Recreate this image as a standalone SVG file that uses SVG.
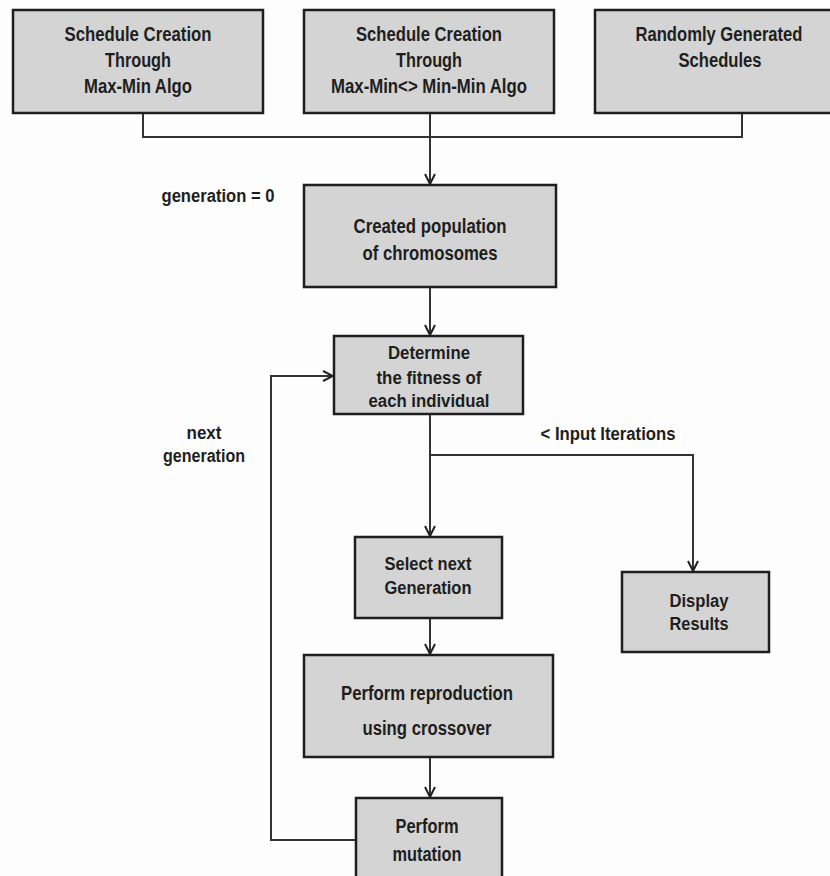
<svg xmlns="http://www.w3.org/2000/svg" width="830" height="876" viewBox="0 0 830 876">
<style>
.box{fill:#d4d4d4;stroke:#1e1e1e;stroke-width:2.5}
.t{font-family:"Liberation Sans",Arial,sans-serif;font-weight:bold;fill:#1e1e1e;text-anchor:middle}
.l{font-size:20px}
.s{font-size:18px}
.c{fill:none;stroke:#333;stroke-width:2}
</style>
<defs>
<marker id="ah" viewBox="0 0 12 12" refX="11" refY="6" markerWidth="12" markerHeight="12" markerUnits="userSpaceOnUse" orient="auto">
<path d="M1,1 L11,6 L1,11" fill="none" stroke="#222" stroke-width="2"/>
</marker>
</defs>
<rect width="830" height="876" fill="#fdfdfd"/>
<g id="connectors">
<path class="c" d="M143 113 V137 H742 V113"/>
<path class="c" d="M430 113 V184" marker-end="url(#ah)"/>
<path class="c" d="M430 287 V335" marker-end="url(#ah)"/>
<path class="c" d="M430 414 V536" marker-end="url(#ah)"/>
<path class="c" d="M430 455 H693 V571" marker-end="url(#ah)"/>
<path class="c" d="M430 618 V654" marker-end="url(#ah)"/>
<path class="c" d="M430 757 V797" marker-end="url(#ah)"/>
<path class="c" d="M356 840 H271 V376 H333" marker-end="url(#ah)"/>
</g>
<g id="box1">
<rect class="box" x="13" y="10" width="250" height="103"/>
<text class="t l" x="138" y="41" textLength="147" lengthAdjust="spacingAndGlyphs">Schedule Creation</text>
<text class="t l" x="138" y="67" textLength="66" lengthAdjust="spacingAndGlyphs">Through</text>
<text class="t l" x="138" y="93" textLength="108" lengthAdjust="spacingAndGlyphs">Max-Min Algo</text>
</g>
<g id="box2">
<rect class="box" x="304" y="10" width="250" height="103"/>
<text class="t l" x="429" y="41" textLength="146" lengthAdjust="spacingAndGlyphs">Schedule Creation</text>
<text class="t l" x="429" y="67" textLength="66" lengthAdjust="spacingAndGlyphs">Through</text>
<text class="t l" x="429" y="93" textLength="196" lengthAdjust="spacingAndGlyphs">Max-Min&lt;&gt; Min-Min Algo</text>
</g>
<g id="box3">
<rect class="box" x="595" y="10" width="250" height="103"/>
<text class="t l" x="719" y="41" textLength="167" lengthAdjust="spacingAndGlyphs">Randomly Generated</text>
<text class="t l" x="720" y="67" textLength="83" lengthAdjust="spacingAndGlyphs">Schedules</text>
</g>
<g id="label-gen0">
<text class="t s" x="218" y="202" textLength="113" lengthAdjust="spacingAndGlyphs">generation = 0</text>
</g>
<g id="box4">
<rect class="box" x="304" y="185" width="252" height="102"/>
<text class="t l" x="430" y="233" textLength="153" lengthAdjust="spacingAndGlyphs">Created population</text>
<text class="t l" x="430" y="260" textLength="135" lengthAdjust="spacingAndGlyphs">of chromosomes</text>
</g>
<g id="box5">
<rect class="box" x="334" y="336" width="189" height="78"/>
<text class="t s" x="429" y="359" textLength="82" lengthAdjust="spacingAndGlyphs">Determine</text>
<text class="t s" x="429" y="384" textLength="105" lengthAdjust="spacingAndGlyphs">the fitness of</text>
<text class="t s" x="429" y="407" textLength="121" lengthAdjust="spacingAndGlyphs">each individual</text>
</g>
<g id="label-next">
<text class="t s" x="204" y="439" textLength="35" lengthAdjust="spacingAndGlyphs">next</text>
<text class="t s" x="204" y="462" textLength="82" lengthAdjust="spacingAndGlyphs">generation</text>
</g>
<g id="label-iter">
<text class="t s" x="608" y="440" textLength="135" lengthAdjust="spacingAndGlyphs">&lt; Input Iterations</text>
</g>
<g id="box6">
<rect class="box" x="355" y="537" width="147" height="81"/>
<text class="t s" x="428" y="570" textLength="87" lengthAdjust="spacingAndGlyphs">Select next</text>
<text class="t s" x="428" y="594" textLength="87" lengthAdjust="spacingAndGlyphs">Generation</text>
</g>
<g id="box7">
<rect class="box" x="622" y="572" width="147" height="80"/>
<text class="t s" x="699" y="607" textLength="59" lengthAdjust="spacingAndGlyphs">Display</text>
<text class="t s" x="699" y="630" textLength="59" lengthAdjust="spacingAndGlyphs">Results</text>
</g>
<g id="box8">
<rect class="box" x="304" y="655" width="249" height="102"/>
<text class="t l" x="427" y="700" textLength="172" lengthAdjust="spacingAndGlyphs">Perform reproduction</text>
<text class="t l" x="427" y="735" textLength="129" lengthAdjust="spacingAndGlyphs">using crossover</text>
</g>
<g id="box9">
<rect class="box" x="356" y="798" width="146" height="95"/>
<text class="t l" x="427" y="833" textLength="63" lengthAdjust="spacingAndGlyphs">Perform</text>
<text class="t l" x="427" y="861" textLength="69" lengthAdjust="spacingAndGlyphs">mutation</text>
</g>
</svg>
